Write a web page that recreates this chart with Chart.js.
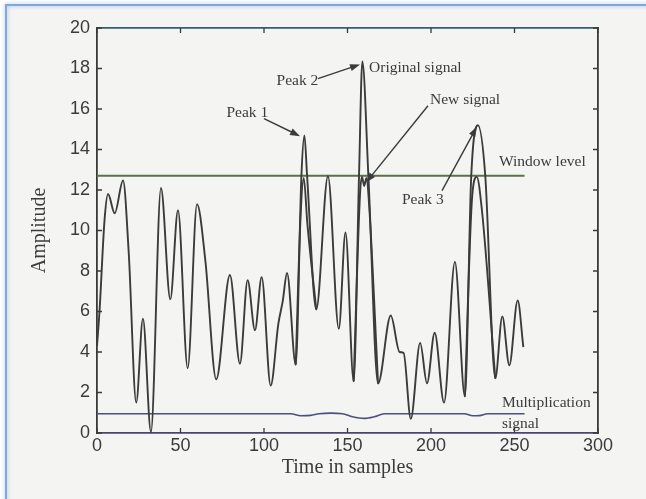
<!DOCTYPE html>
<html>
<head>
<meta charset="utf-8">
<script src="https://cdn.jsdelivr.net/npm/chart.js@4.4.1/dist/chart.umd.min.js"></script>
<style>
html, body { margin: 0; padding: 0; background: #fff; overflow: hidden; }
#wrap { position: relative; width: 646px; height: 499px; }
</style>
</head>
<body>
<div id="wrap"><canvas id="chart_amplitude"></canvas></div>
<script>
// values (time in samples, amplitude)
var originalTimes = [0, 1.5, 4.5, 6.6, 10.6, 15.6, 19, 23.5, 27.5, 32.3, 38.3, 43.9, 48.5, 54.3, 59.9, 64.9,
    71.4, 79.6, 85.6, 90.2, 94.6, 98.6, 104, 108.6, 111.2, 113.8, 119, 122.4, 124.2, 125.8, 131.3,
    138.3, 144.8, 148.8, 153.7, 156.9, 158.9, 162.5, 168.3, 175.9, 181.2, 183.6, 187.9, 193.5, 197.6,
    202.2, 207.8, 214.3, 220.3, 224.1, 228.1, 232.5, 238.5, 242.7, 246.9, 251.9, 255.3];
var originalValues = [4.3, 6.0, 10.5, 11.8, 10.85, 12.47, 8.9, 1.5, 5.65, 0.05, 12.1, 6.6, 11.0, 3.2, 11.3, 8.5,
    2.65, 7.8, 3.42, 7.55, 5.07, 7.7, 2.34, 5.4, 6.5, 7.9, 3.37, 12.7, 14.7, 12.7, 6.1,
    12.68, 5.15, 9.9, 2.55, 12.7, 18.35, 12.7, 2.44, 5.8, 4.0, 3.95, 0.7, 4.45, 2.45,
    4.95, 1.5, 8.45, 1.8, 12.7, 15.2, 12.7, 2.7, 5.76, 3.34, 6.55, 4.24];

// new signal only where it leaves the original (the three peaks), null breaks the line
var newTimes = [119, 121.8, 123.8, 126, 131.3, 140, 153.7, 157.5, 158.7, 160, 161.3, 163, 168.3, 190, 220.3, 224.5, 227.4, 230.5, 238.5];
var newValues = [3.37, 10.5, 12.6, 10.3, 6.1, null, 2.55, 11.8, 12.65, 12.2, 12.6, 11.2, 2.44, null, 1.8, 11.5, 12.65, 11.0, 2.7];

var multTimes = [0, 116, 122, 128, 133, 140, 147, 153, 160, 166, 172, 220, 225, 229, 234, 256];
var multValues = [0.95, 0.95, 0.85, 0.87, 0.95, 0.98, 0.95, 0.8, 0.72, 0.8, 0.95, 0.95, 0.85, 0.86, 0.95, 0.95];

var windowTimes = [0, 256];
var windowValues = [12.7, 12.7];

var xTickValues = [0, 50, 100, 150, 200, 250, 300];
var yTickValues = [0, 2, 4, 6, 8, 10, 12, 14, 16, 18, 20];

// text notes, placed in data units
var notes = [
    { text: 'Peak 1', t: 77.5, v: 15.82 },
    { text: 'Peak 2', t: 107.5, v: 17.4 },
    { text: 'Original signal', t: 162.9, v: 18.04 },
    { text: 'New signal', t: 199.4, v: 16.46 },
    { text: 'Peak 3', t: 182.6, v: 11.53 },
    { text: 'Window level', t: 240.7, v: 13.4 },
    { text: 'Multiplication', t: 242.5, v: 1.5 },
    { text: 'signal', t: 242.5, v: 0.45 }
];
var arrows = [
    { t1: 100, v1: 15.53, t2: 121.6, v2: 14.66 },
    { t1: 132.3, v1: 17.5, t2: 157.5, v2: 18.2 },
    { t1: 198.2, v1: 16.16, t2: 161.1, v2: 12.37 },
    { t1: 206.6, v1: 11.97, t2: 227.5, v2: 15.13 }
];

function pairs(xs, ys) {
    return xs.map(function (x, i) { return { x: x, y: ys[i] }; });
}

var sansFont = '"Liberation Sans", Arial, sans-serif';
var serifFont = '"Liberation Serif", "Times New Roman", serif';
var inkColor = '#3b3b3b';

function drawArrow(ctx, x1, y1, x2, y2) {
    var a = Math.atan2(y2 - y1, x2 - x1);
    ctx.beginPath();
    ctx.moveTo(x1, y1);
    ctx.lineTo(x2 - 6 * Math.cos(a), y2 - 6 * Math.sin(a));
    ctx.stroke();
    ctx.beginPath();
    ctx.moveTo(x2, y2);
    ctx.lineTo(x2 - 10 * Math.cos(a) + 3.5 * Math.sin(a), y2 - 10 * Math.sin(a) - 3.5 * Math.cos(a));
    ctx.lineTo(x2 - 10 * Math.cos(a) - 3.5 * Math.sin(a), y2 - 10 * Math.sin(a) + 3.5 * Math.cos(a));
    ctx.closePath();
    ctx.fill();
}

var chart_amplitude = new Chart(document.getElementById('chart_amplitude'), {
    type: 'line',
    data: {
        datasets: [
            {
                label: 'Original signal',
                data: pairs(originalTimes, originalValues),
                borderColor: inkColor,
                borderWidth: 1.9,
                cubicInterpolationMode: 'monotone',
                pointRadius: 0,
                order: 1
            },
            {
                label: 'New signal',
                data: pairs(newTimes, newValues),
                borderColor: inkColor,
                borderWidth: 1.9,
                cubicInterpolationMode: 'monotone',
                spanGaps: false,
                pointRadius: 0,
                order: 2
            },
            {
                label: 'Window level',
                data: pairs(windowTimes, windowValues),
                borderColor: '#5e7049',
                borderWidth: 2,
                pointRadius: 0,
                order: 3
            },
            {
                label: 'Multiplication signal',
                data: pairs(multTimes, multValues),
                borderColor: '#4d4f7f',
                borderWidth: 1.6,
                cubicInterpolationMode: 'monotone',
                pointRadius: 0,
                order: 4
            }
        ]
    },
    options: {
        animation: false,
        responsive: true,
        maintainAspectRatio: false,
        layout: { padding: 0 },
        plugins: {
            legend: { display: false },
            tooltip: { enabled: false }
        },
        scales: {
            x: {
                type: 'linear',
                position: 'bottom',
                min: 0,
                max: 300,
                afterBuildTicks: function (axis) {
                    axis.ticks = xTickValues.map(function (v) { return { value: v }; });
                },
                afterFit: function (axis) { axis.height = 66; },
                grid: { drawOnChartArea: false, drawTicks: false },
                border: { color: '#4b4470', width: 1.8 },
                ticks: {
                    padding: 2,
                    color: inkColor,
                    font: { family: sansFont, size: 18 },
                    maxRotation: 0,
                    autoSkip: false
                },
                title: {
                    display: true,
                    text: 'Time in samples',
                    color: inkColor,
                    font: { family: serifFont, size: 20 },
                    padding: { top: 0, bottom: 19 }
                }
            },
            x2: {
                type: 'linear',
                position: 'top',
                min: 0,
                max: 300,
                afterFit: function (axis) { axis.height = 28; },
                grid: { drawOnChartArea: false, drawTicks: false },
                border: { color: '#33636a', width: 1.8 },
                ticks: { display: false }
            },
            y: {
                type: 'linear',
                position: 'left',
                min: 0,
                max: 20,
                afterBuildTicks: function (axis) {
                    axis.ticks = yTickValues.map(function (v) { return { value: v }; });
                },
                afterFit: function (axis) { axis.width = 97; },
                grid: { drawOnChartArea: false, drawTicks: false },
                border: { color: '#3a3a3a', width: 1.8 },
                ticks: {
                    padding: 7,
                    color: inkColor,
                    font: { family: sansFont, size: 18 },
                    autoSkip: false
                },
                title: {
                    display: true,
                    text: 'Amplitude',
                    color: inkColor,
                    font: { family: serifFont, size: 20 },
                    padding: { top: 28, bottom: 0 }
                }
            },
            y2: {
                type: 'linear',
                position: 'right',
                min: 0,
                max: 20,
                afterFit: function (axis) { axis.width = 48; },
                grid: { drawOnChartArea: false, drawTicks: false },
                border: { color: '#3a3a3a', width: 1.8 },
                ticks: { display: false }
            }
        }
    },
    plugins: [{
        id: 'scanPage',
        beforeDraw: function (chart) {
            var ctx = chart.ctx;
            ctx.save();
            ctx.fillStyle = '#ffffff';
            ctx.fillRect(0, 0, chart.width, chart.height);
            ctx.fillStyle = '#f4f4f3';
            ctx.fillRect(6, 5, chart.width, chart.height);
            ctx.strokeStyle = '#7fa9dc';
            ctx.lineWidth = 2;
            ctx.shadowColor = 'rgba(90,140,210,0.6)';
            ctx.shadowBlur = 4;
            ctx.beginPath();
            ctx.moveTo(6, chart.height + 5);
            ctx.lineTo(6, 5);
            ctx.lineTo(chart.width + 5, 5);
            ctx.stroke();
            ctx.restore();
        }
    }, {
        id: 'matlabTicks',
        afterDraw: function (chart) {
            var ctx = chart.ctx;
            var xs = chart.scales.x, ys = chart.scales.y;
            var area = chart.chartArea;
            ctx.save();
            ctx.strokeStyle = '#3a3a3a';
            ctx.lineWidth = 1.3;
            ctx.beginPath();
            xTickValues.forEach(function (v) {
                var px = xs.getPixelForValue(v);
                ctx.moveTo(px, area.bottom);
                ctx.lineTo(px, area.bottom - 5);
                ctx.moveTo(px, area.top);
                ctx.lineTo(px, area.top + 5);
            });
            yTickValues.forEach(function (v) {
                var py = ys.getPixelForValue(v);
                ctx.moveTo(area.left, py);
                ctx.lineTo(area.left + 5, py);
                ctx.moveTo(area.right, py);
                ctx.lineTo(area.right - 5, py);
            });
            ctx.stroke();

            // annotations
            ctx.fillStyle = inkColor;
            ctx.font = '15.5px ' + serifFont;
            ctx.textAlign = 'left';
            ctx.textBaseline = 'middle';
            notes.forEach(function (n) {
                ctx.fillText(n.text, xs.getPixelForValue(n.t), ys.getPixelForValue(n.v));
            });
            ctx.strokeStyle = inkColor;
            ctx.lineWidth = 1.4;
            arrows.forEach(function (a) {
                drawArrow(ctx, xs.getPixelForValue(a.t1), ys.getPixelForValue(a.v1),
                    xs.getPixelForValue(a.t2), ys.getPixelForValue(a.v2));
            });
            ctx.restore();
        }
    }]
});
</script>
</body>
</html>
